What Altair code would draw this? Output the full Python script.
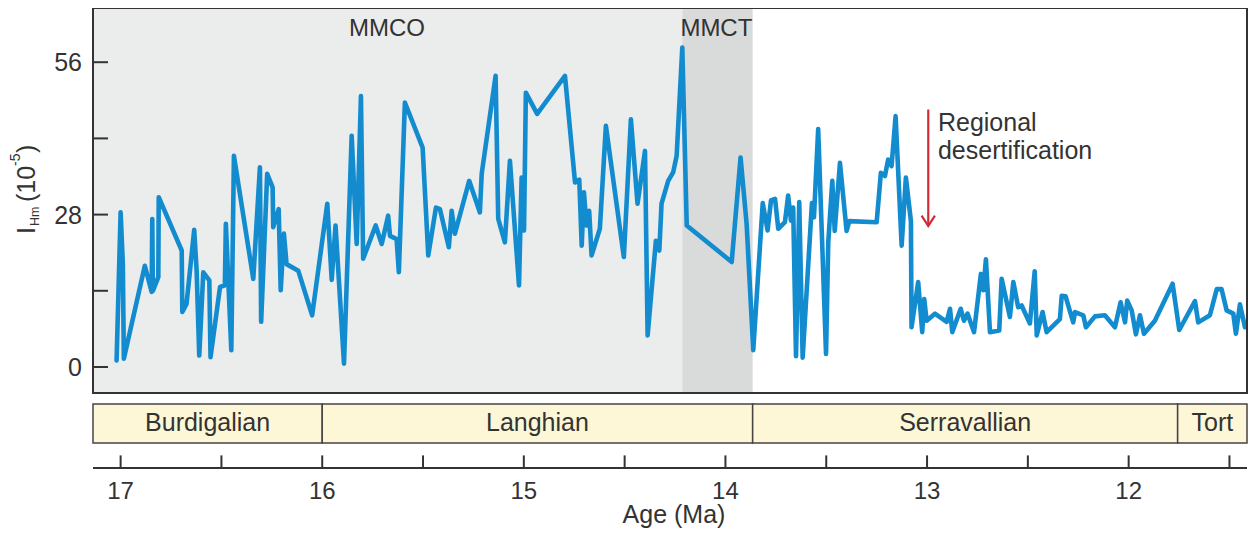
import altair as alt
import pandas as pd

# ---------------- data ----------------
ages = [17.02, 17.00, 16.989, 16.984, 16.88, 16.846, 16.843, 16.84, 16.813, 16.811,
        16.697, 16.694, 16.673, 16.635, 16.623, 16.61, 16.59, 16.56, 16.554, 16.507,
        16.483, 16.478, 16.451, 16.438, 16.342, 16.309, 16.303, 16.273, 16.246, 16.243,
        16.216, 16.206, 16.19, 16.177, 16.119, 16.05, 15.975, 15.953, 15.934, 15.892,
        15.854, 15.829, 15.808, 15.797, 15.735, 15.705, 15.673, 15.664, 15.631, 15.62,
        15.59, 15.502, 15.474, 15.436, 15.416, 15.372, 15.358, 15.342, 15.271, 15.218,
        15.209, 15.14, 15.127, 15.094, 15.069, 15.024, 15.011, 14.999, 14.99, 14.934,
        14.796, 14.746, 14.725, 14.713, 14.702, 14.689, 14.676, 14.664, 14.623, 14.593,
        14.504, 14.469, 14.436, 14.399, 14.386, 14.345, 14.328, 14.317, 14.284, 14.259,
        14.242, 14.214, 14.192, 13.969, 13.925, 13.895, 13.862, 13.815, 13.791, 13.774,
        13.754, 13.738, 13.705, 13.689, 13.675, 13.664, 13.65, 13.634, 13.617, 13.571,
        13.561, 13.54, 13.501, 13.49, 13.47, 13.458, 13.432, 13.399, 13.386, 13.25,
        13.229, 13.209, 13.193, 13.176, 13.156, 13.126, 13.105, 13.08, 13.077, 13.044,
        13.024, 13.014, 13.002, 12.961, 12.903, 12.886, 12.875, 12.833, 12.817, 12.799,
        12.767, 12.733, 12.721, 12.708, 12.688, 12.642, 12.63, 12.589, 12.572, 12.548,
        12.531, 12.49, 12.466, 12.456, 12.427, 12.407, 12.341, 12.332, 12.313, 12.275,
        12.266, 12.225, 12.212, 12.167, 12.118, 12.068, 12.04, 12.018, 12.007, 11.985,
        11.964, 11.944, 11.924, 11.87, 11.782, 11.749, 11.671, 11.655, 11.597, 11.563,
        11.539, 11.514, 11.481, 11.468, 11.448, 11.423]

values = [1.2, 28.4, 19.0, 1.5, 18.6, 13.8, 27.2, 14.0, 16.5, 31.2,
          21.4, 10.1, 11.6, 25.2, 17.7, 2.1, 17.4, 15.9, 1.8, 14.7,
          15.0, 26.3, 3.1, 38.8, 16.2, 36.7, 8.3, 35.5, 33.0, 25.7,
          29.0, 14.1, 24.5, 18.9, 17.7, 9.5, 30.0, 16.0, 26.0, 0.6,
          42.5, 22.6, 49.8, 19.9, 26.0, 22.6, 27.8, 24.1, 23.5, 17.4,
          48.6, 40.3, 20.5, 29.3, 29.0, 22.0, 28.7, 24.5, 34.2, 28.4,
          35.5, 53.5, 27.2, 22.9, 37.9, 15.0, 34.8, 25.1, 50.4, 46.5,
          53.5, 33.9, 34.4, 22.3, 32.1, 26.0, 28.7, 20.5, 25.4, 44.3,
          20.2, 45.5, 30.0, 39.7, 5.8, 23.2, 21.4, 30.0, 34.2, 35.8,
          38.8, 58.7, 26.0, 19.3, 38.5, 26.3, 3.1, 30.1, 25.1, 30.6,
          30.9, 25.4, 26.6, 31.5, 26.9, 29.3, 2.0, 30.3, 1.7, 30.1,
          27.5, 43.7, 2.4, 22.9, 34.2, 25.0, 37.5, 25.0, 26.8, 26.6,
          35.7, 35.1, 38.1, 36.9, 46.1, 22.3, 34.8, 26.8, 7.3, 15.6,
          6.4, 12.5, 8.5, 9.8, 8.3, 10.7, 6.4, 10.7, 8.5, 9.8,
          6.4, 17.1, 14.1, 19.8, 6.4, 6.7, 16.2, 9.2, 15.6, 11.0,
          11.3, 8.0, 17.6, 5.8, 10.1, 6.4, 8.8, 13.1, 13.0, 8.2,
          10.1, 9.5, 7.3, 9.3, 9.5, 7.3, 11.9, 8.2, 12.2, 10.4,
          6.0, 9.5, 6.1, 8.5, 15.3, 6.8, 12.1, 8.2, 9.5, 14.3,
          14.3, 10.4, 9.8, 6.1, 11.5, 7.3]

X_MIN, X_MAX = 11.413, 17.137
Y_MIN, Y_MAX = -4.78, 65.96

band_names = ["MMCO", "MMCT"]
band_start = [X_MAX, 14.214]
band_end = [14.214, 13.865]
band_colors = ["#ebecec", "#d9dada"]
band_label_age = [15.679, 14.045]
band_label_value = [60.8, 60.8]

stage_names = ["Burdigalian", "Langhian", "Serravallian", "Tort"]
stage_start = [X_MAX, 16.0, 13.865, 11.757]
stage_end = [16.0, 13.865, 11.757, X_MIN]

x_ticks = [17, 16.5, 16, 15.5, 15, 14.5, 14, 13.5, 13, 12.5, 12, 11.5]
x_labels = [17, 16, 15, 14, 13, 12]
y_ticks = [0, 14, 28, 42, 56]
y_labels = [0, 28, 56]

note_lines = ["Regional", "desertification"]
note_age = [12.946, 12.946]
note_value = [43.4, 38.2]
arrow_age = [12.994, 12.994]
arrow_value = [47.3, 25.9]
head_age = [13.027, 12.994, 12.961]
head_value = [27.8, 25.9, 27.8]

# ---------------- tables ----------------
W, H = 1154, 385
FONT = "Liberation Sans"
TXT = "#333333"
LINE = "#333333"

series = pd.DataFrame({"age": ages, "v": values, "i": range(len(ages))})
bands = pd.DataFrame({"name": band_names, "s": band_start, "e": band_end,
                      "c": band_colors, "la": band_label_age, "lv": band_label_value})
stages = pd.DataFrame({"name": stage_names, "s": stage_start, "e": stage_end})
stages["mid"] = (stages["s"] + stages["e"]) / 2
xt = pd.DataFrame({"t": x_ticks})
xl = pd.DataFrame({"t": x_labels, "lab": [str(v) for v in x_labels]})
yt = pd.DataFrame({"v": y_ticks})
yl = pd.DataFrame({"v": y_labels, "lab": [str(v) for v in y_labels]})
notes = pd.DataFrame({"age": note_age, "v": note_value, "txt": note_lines})
arrow = pd.DataFrame({"age": arrow_age, "v": arrow_value})
head = pd.DataFrame({"age": head_age, "v": head_value, "i": range(3)})
one = pd.DataFrame({"k": [0]})

xs = alt.Scale(domain=[X_MIN, X_MAX], reverse=True, nice=False, zero=False)
ys = alt.Scale(domain=[Y_MIN, Y_MAX], nice=False, zero=False)

def X(f):
    return alt.X(f, type="quantitative", scale=xs, axis=None)

def Y(f):
    return alt.Y(f, type="quantitative", scale=ys, axis=None)

band_rect = alt.Chart(bands).mark_rect().encode(
    x=X("s"), x2="e", y=alt.value(0), y2=alt.value(H),
    color=alt.Color("c:N", scale=None))

band_text = alt.Chart(bands).mark_text(
    font=FONT, fontSize=24, color=TXT, align="center", baseline="alphabetic"
).encode(x=X("la"), y=Y("lv"), text="name:N")

line = alt.Chart(series).mark_line(
    color="#138ccf", strokeWidth=4.6, strokeJoin="round", strokeCap="round"
).encode(x=X("age"), y=Y("v"), order="i:Q")

frame = alt.Chart(one).mark_rect(
    fillOpacity=0, stroke=LINE, strokeWidth=2
).encode(x=alt.value(0), x2=alt.value(W), y=alt.value(0), y2=alt.value(H))

ytick = alt.Chart(yt).mark_rule(color=LINE, strokeWidth=2).encode(
    x=alt.value(0), x2=alt.value(15), y=Y("v"))

ylab = alt.Chart(yl).mark_text(
    font=FONT, fontSize=25, color=TXT, align="right", baseline="middle", dy=1
).encode(x=alt.value(-11), y=Y("v"), text="lab:N")

# y title: I_Hm (10^-5), pieces rotated
def ypiece(txt, xpx, ypx, size):
    return alt.Chart(one).mark_text(
        text=txt, font=FONT, fontSize=size, color=TXT, angle=270,
        align="left", baseline="alphabetic"
    ).encode(x=alt.value(xpx), y=alt.value(ypx))

ytitle = (ypiece("I", -58, 226, 25) + ypiece("Hm", -54, 218, 12.5) +
          ypiece("(10", -58, 194, 25) + ypiece("-5", -73, 158, 14) +
          ypiece(")", -58, 145, 25))

note_text = alt.Chart(notes).mark_text(
    font=FONT, fontSize=25, color=TXT, align="left", baseline="alphabetic"
).encode(x=X("age"), y=Y("v"), text="txt:N")

arrow_rule = alt.Chart(arrow).mark_line(color="#d42a36", strokeWidth=2.2).encode(
    x=X("age"), y=Y("v"))
arrow_head = alt.Chart(head).mark_line(
    color="#d42a36", strokeWidth=2.2, strokeJoin="miter").encode(
    x=X("age"), y=Y("v"), order="i:Q")

stage_rect = alt.Chart(stages).mark_rect(
    fill="#fdf7d8", stroke="#444444", strokeWidth=1.5
).encode(x=X("s"), x2="e", y=alt.value(396), y2=alt.value(435))

stage_text = alt.Chart(stages).mark_text(
    font=FONT, fontSize=25, color=TXT, align="center", baseline="alphabetic"
).encode(x=X("mid"), y=alt.value(423), text="name:N")

axis_line = alt.Chart(one).mark_rule(color=LINE, strokeWidth=2).encode(
    x=alt.value(0), x2=alt.value(W), y=alt.value(460))

xtick = alt.Chart(xt).mark_rule(color=LINE, strokeWidth=2).encode(
    x=X("t"), y=alt.value(447.4), y2=alt.value(460))

xlab = alt.Chart(xl).mark_text(
    font=FONT, fontSize=24, color=TXT, align="center", baseline="alphabetic"
).encode(x=X("t"), y=alt.value(490.5), text="lab:N")

xtitle = alt.Chart(one).mark_text(
    text="Age (Ma)", font=FONT, fontSize=25, color=TXT,
    align="center", baseline="alphabetic"
).encode(x=alt.value(581), y=alt.value(515))

chart = alt.layer(
    band_rect, band_text, line, frame, ytick, ylab, ytitle,
    note_text, arrow_rule, arrow_head,
    stage_rect, stage_text, axis_line, xtick, xlab, xtitle
).properties(
    width=W, height=H,
    autosize=alt.AutoSizeParams(type="none"),
    padding={"left": 85, "top": 0, "right": 1, "bottom": 136},
    background="white",
).configure_view(stroke=None)

chart.save("out.html", embed_options={"renderer": "svg", "actions": False})
